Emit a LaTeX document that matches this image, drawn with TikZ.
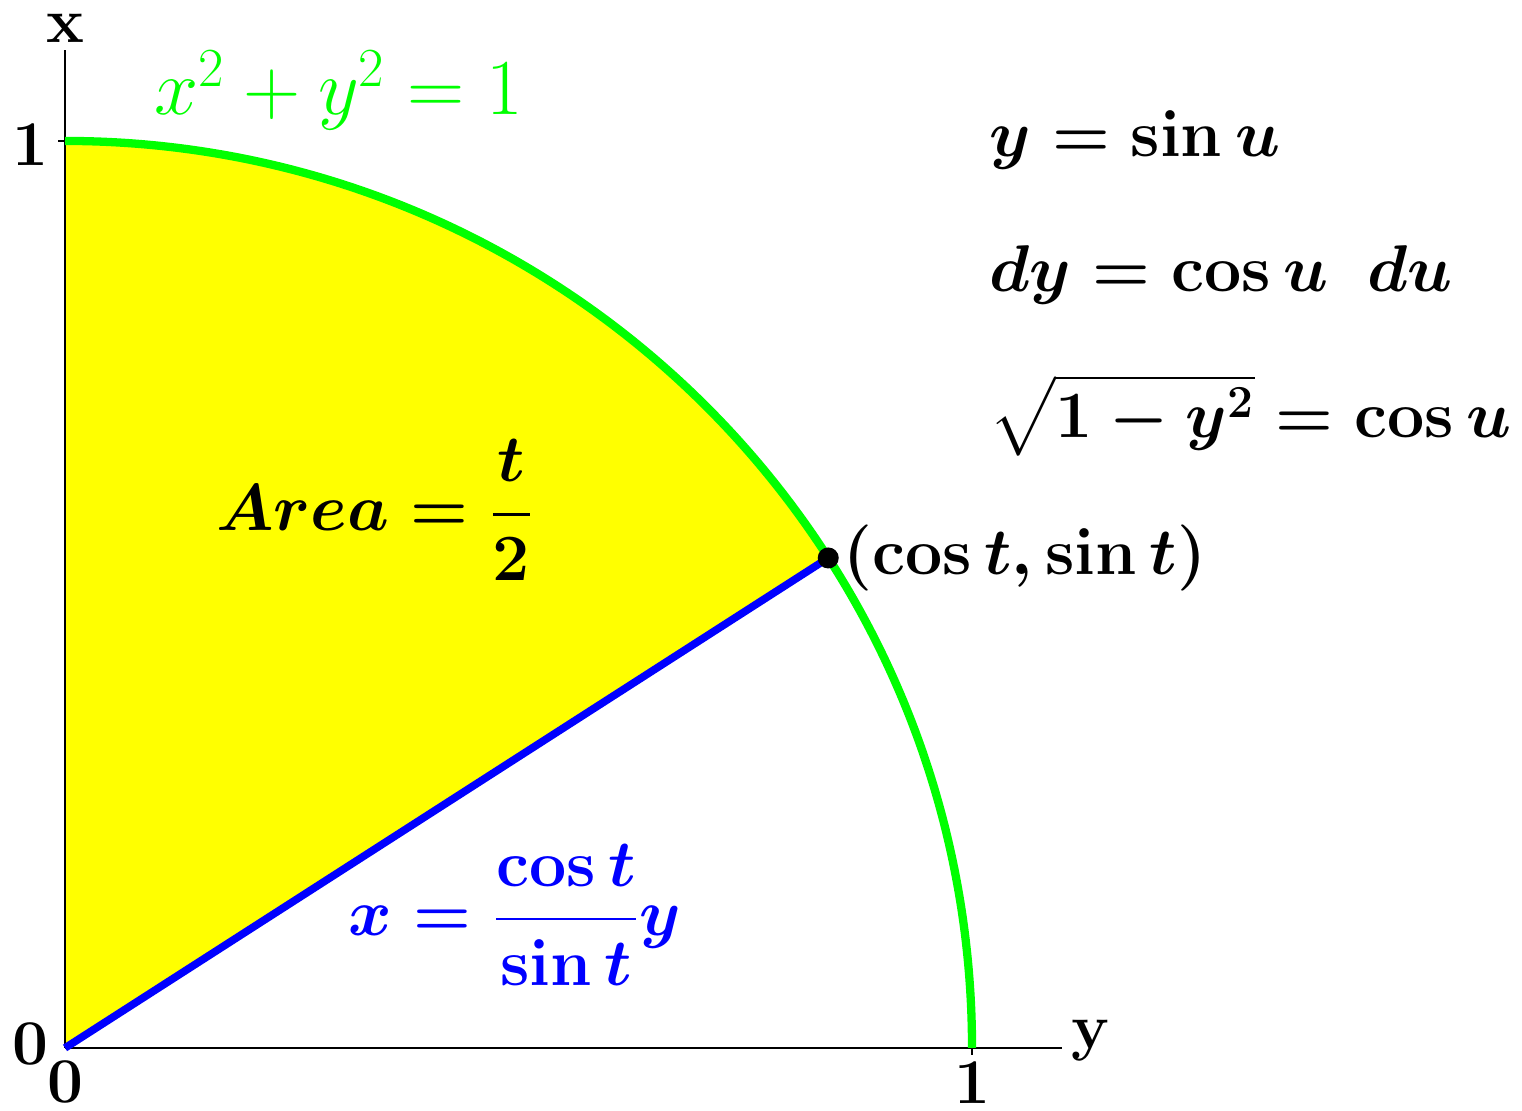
\documentclass[tikz,border=0pt]{standalone}
\usepackage{amsmath}
\definecolor{pyellow}{RGB}{255,255,0}
\definecolor{pgreen}{RGB}{0,255,0}
\definecolor{pblue}{RGB}{0,0,255}
\begin{document}
\begin{tikzpicture}[x=10cm,y=10cm,
  lbl/.style={font=\fontsize{20}{24}\selectfont\bfseries\boldmath, inner sep=1pt},
  eq/.style={font=\fontsize{20}{24}\selectfont\boldmath, inner sep=1pt},
  geq/.style={font=\fontsize{25}{30}\selectfont, inner sep=1pt},
  axis/.style={line width=0.7pt}]
\useasboundingbox (-0.0717,-0.0695) rectangle (1.6064,1.1554);
\coordinate (O) at (0,0);
\coordinate (P) at (32.7:1);
\coordinate (T) at (0,1);
\coordinate (R) at (1,0);
\coordinate (XE) at (0,1.1);
\coordinate (YE) at (1.099,0);
\fill[pyellow] (O) -- (P) arc[start angle=32.7,end angle=90,radius=1] -- cycle;
\draw[axis] (O) -- (XE);
\draw[axis] (O) -- (YE);
\draw[axis] (T) -- ++(-0.008,0);
\draw[axis] (R) -- ++(0,-0.008);
\draw[pgreen, line width=2.6pt] (T) arc[start angle=90,end angle=0,radius=1];
\draw[pblue, line width=2.4pt] (O) -- (P);
\fill (P) circle[radius=3.3pt];
\node[lbl] (xl) at (0,1.124) {x};
\node[lbl] (yl) at (1.130,0.008) {y};
\node[lbl] (one1) at (-0.0386,0.996) {1};
\node[lbl] (zero1) at (-0.0386,0.004) {0};
\node[lbl] (zero2) at (0,-0.038) {0};
\node[lbl] (one2) at (1,-0.038) {1};
\node[geq, pgreen, anchor=base] (circ) at (0.302,1.0287) {$x^2+y^2=1$};
\node[eq, anchor=west] (e1) at (1.015,1.001) {$y=\sin u$};
\node[eq, anchor=west] (e2) at (1.015,0.852) {$dy=\cos u\ \ du$};
\node[eq, anchor=west] (e3) at (1.015,0.698) {$\sqrt{1-y^2}=\cos u$};
\node[eq] (area) at (0.3418,0.593) {$Area=\dfrac{t}{2}$};
\node[eq, anchor=west, xshift=3.5pt] (pl) at (P) {$(\cos t,\sin t)$};
\node[eq, pblue] (bl) at (0.496,0.1466) {$x=\dfrac{\cos t}{\sin t}y$};
\end{tikzpicture}
\end{document}
